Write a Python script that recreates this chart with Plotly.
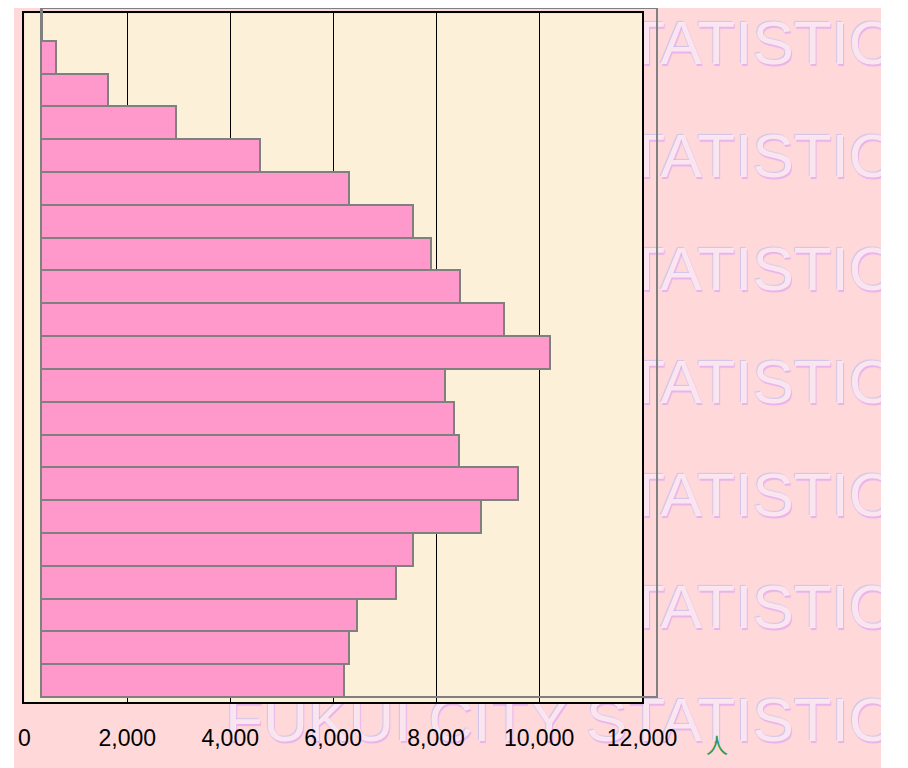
import plotly.graph_objects as go

W, H = 908, 768
# the page shows the figure at an offset and slightly narrower than W;
# map reference pixel positions to paper fractions accordingly
OX, OY, RW, RH = 13.0, 8.0, 867.0, 768.0


def xf(px):
    return (px - OX) / RW


def yf(py):
    return 1 - (py - OY) / RH


# ---- data (female population by 5-year age group, bottom -> top) ----
age_groups = ["0-4", "5-9", "10-14", "15-19", "20-24", "25-29", "30-34", "35-39",
              "40-44", "45-49", "50-54", "55-59", "60-64", "65-69", "70-74",
              "75-79", "80-84", "85-89", "90-94", "95-99", "100+"]
female = [5897, 5994, 6161, 6907, 7249, 8569, 9301, 8150, 8039, 7870, 9915,
          9016, 8169, 7606, 7237, 5994, 4266, 2621, 1314, 291, 25]

x_ticks = [0, 2000, 4000, 6000, 8000, 10000, 12000]
x_tick_labels = ["0", "2,000", "4,000", "6,000", "8,000", "10,000", "12,000"]
unit_label = "人"

watermark_text = "FUKUI CITY STATISTIC"
watermark_rows = [48.5, 161, 274, 387, 500, 612, 725]

FONT = "Liberation Sans, Arial, sans-serif"

fig = go.Figure()

# ---- background watermark (embossed, clipped to the pink panel) ----
fig.add_trace(go.Scatter(
    x=[558.5] * len(watermark_rows),
    y=watermark_rows,
    mode="text",
    text=[watermark_text] * len(watermark_rows),
    textposition="middle center",
    textfont=dict(family=FONT, size=62, color="rgba(255,234,239,0.9)",
                  shadow="-1px -1px 1px rgba(165,180,245,0.6), "
                         "1px 2px 1px rgba(220,160,245,0.75)"),
    hoverinfo="skip", showlegend=False, cliponaxis=True,
    xaxis="x", yaxis="y"))

# placeholder so the frame/grid subplot exists
fig.add_trace(go.Scatter(x=[], y=[], xaxis="x2", yaxis="y2",
                         showlegend=False, hoverinfo="skip"))

# ---- bars ----
fig.add_trace(go.Bar(
    orientation="h", x=female, y=age_groups,
    xaxis="x3", yaxis="y3",
    marker=dict(color="#FF99CC", line=dict(color="#808080", width=2)),
    showlegend=False, hovertemplate="%{y}: %{x:,}<extra></extra>"))

fig.update_layout(
    width=W, height=H, autosize=False,
    margin=dict(l=0, r=0, t=0, b=0, pad=0),
    paper_bgcolor="white",
    plot_bgcolor="rgba(0,0,0,0)",
    bargap=0,
    showlegend=False,
    xaxis=dict(domain=[0, 1], range=[OX, OX + RW], visible=False, fixedrange=True),
    yaxis=dict(domain=[0, 1], range=[OY + RH, OY], visible=False, fixedrange=True),
    xaxis2=dict(domain=[xf(23.3), xf(641)], range=[0, 12000], anchor="y2",
                tickvals=x_ticks, ticktext=x_tick_labels,
                ticks="inside", ticklen=8, tickcolor="black", tickwidth=1,
                showgrid=True, gridcolor="black", gridwidth=1,
                showline=True, linecolor="black", linewidth=1.5, mirror=True,
                zeroline=False, ticklabelstandoff=15,
                tickfont=dict(family=FONT, size=23, color="black")),
    yaxis2=dict(domain=[yf(702), yf(13.3)], range=[0, 1], anchor="x2",
                showline=True, linecolor="black", linewidth=1.5, mirror=True,
                showticklabels=False, ticks="", showgrid=False, zeroline=False),
    xaxis3=dict(domain=[xf(40), xf(656)], range=[0, 12000], anchor="y3", visible=False),
    yaxis3=dict(domain=[yf(697), yf(8)], anchor="x3", visible=False,
                type="category", categoryorder="array", categoryarray=age_groups,
                range=[-0.5, len(age_groups) - 0.5]),
    shapes=[
        dict(type="rect", xref="paper", yref="paper", x0=0, x1=min(1.0, xf(885)), y0=0, y1=1,
             fillcolor="#FFD9DA", line=dict(width=0), layer="below"),
        dict(type="rect", xref="x2", yref="y2", x0=0, x1=12000, y0=0, y1=1,
             fillcolor="#FCF1D8", line=dict(width=0), layer="below"),
        dict(type="rect", xref="x3 domain", yref="y3 domain", x0=0, x1=1, y0=0, y1=1,
             fillcolor="rgba(0,0,0,0)", line=dict(color="#808080", width=2), layer="above"),
    ],
    annotations=[
        dict(text=unit_label, xref="paper", yref="paper", x=xf(716), y=yf(743),
             showarrow=False, xanchor="center", yanchor="middle",
             font=dict(family="Noto Sans CJK JP", size=22, color="#2F9A5C")),
    ],
)

fig.write_html("out.html")
